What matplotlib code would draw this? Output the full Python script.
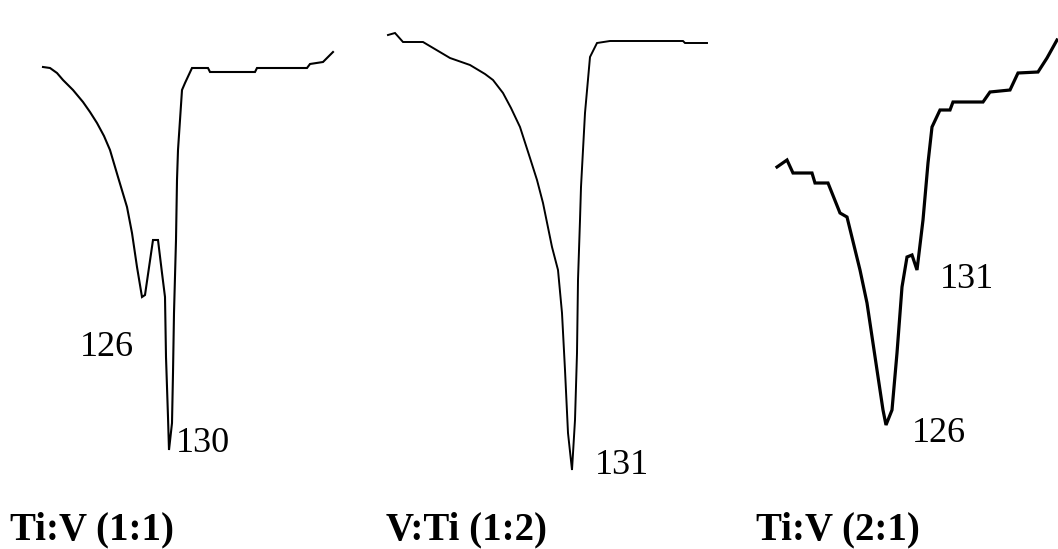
import matplotlib
matplotlib.use("Agg")
import matplotlib.pyplot as plt

# DTA traces for the three Ti/V compositions (horizontal position, signal)
ti_v_11_x = [43, 50, 57, 63, 73, 83, 90, 97, 104, 110, 118, 127, 132, 137, 142, 145, 153,
             158, 162, 165, 166, 168, 169, 172, 173, 174, 176, 177, 178, 182, 185, 192,
             208, 210, 255, 257, 307, 310, 323, 333]
ti_v_11_y = [-67, -68, -73, -80, -90, -102, -112, -123, -136, -150, -177, -207, -233, -267,
             -297, -295, -240, -240, -273, -297, -357, -417, -450, -423, -373, -313, -240,
             -180, -150, -90, -83, -68, -68, -72, -72, -68, -68, -64, -62, -52]

v_ti_12_x = [388, 395, 403, 423, 450, 470, 485, 493, 503, 511, 520, 530, 537, 543, 552,
             558, 562, 565, 568, 572, 575, 577, 578, 580, 581, 585, 590, 597, 610, 683,
             685, 707]
v_ti_12_y = [-35, -33, -42, -42, -58, -65, -74, -80, -93, -108, -127, -158, -180, -203,
             -247, -270, -313, -370, -433, -470, -420, -353, -280, -220, -187, -113, -57,
             -43, -41, -41, -43, -43]

ti_v_21_x = [777, 787, 793, 812, 815, 828, 840, 847, 860, 867, 877, 883, 886, 892, 897,
             902, 907, 912, 917, 923, 928, 932, 940, 950, 953, 983, 990, 1010, 1018,
             1038, 1047, 1057]
ti_v_21_y = [-167, -160, -173, -173, -183, -183, -213, -217, -270, -303, -370, -410, -425,
             -410, -353, -287, -257, -255, -270, -220, -163, -127, -110, -110, -102, -102,
             -92, -90, -73, -72, -58, -40]

panel_titles = ["Ti:V (1:1)", "V:Ti (1:2)", "Ti:V (2:1)"]
peak_labels = ["126", "130", "131", "131", "126"]

fig = plt.figure(figsize=(10.58, 5.49), dpi=100)
ax = fig.add_axes([0, 0, 1, 1])
ax.set_xlim(0, 1058)
ax.set_ylim(-549, 0)
ax.axis("off")

ax.plot(ti_v_11_x, ti_v_11_y, color="black", lw=1.5, solid_joinstyle="miter")
ax.plot(v_ti_12_x, v_ti_12_y, color="black", lw=1.4, solid_joinstyle="miter")
ax.plot(ti_v_21_x, ti_v_21_y, color="black", lw=2.3, solid_joinstyle="miter")

serif = ["Liberation Serif", "DejaVu Serif"]
num_kw = dict(family=serif, fontsize=26, color="black", va="center", ha="left")
ax.text(80, -348, peak_labels[0], **num_kw)
ax.text(176, -444, peak_labels[1], **num_kw)
ax.text(595, -465, peak_labels[2], **num_kw)
ax.text(940, -279, peak_labels[3], **num_kw)
ax.text(912, -433, peak_labels[4], **num_kw)

title_kw = dict(family=serif, fontsize=28, fontweight="bold", color="black",
                va="baseline", ha="left")
ax.text(10, -539, panel_titles[0], **title_kw)
ax.text(386, -539, panel_titles[1], **title_kw)
ax.text(756, -539, panel_titles[2], **title_kw)

fig.savefig("out.png", dpi=100)
